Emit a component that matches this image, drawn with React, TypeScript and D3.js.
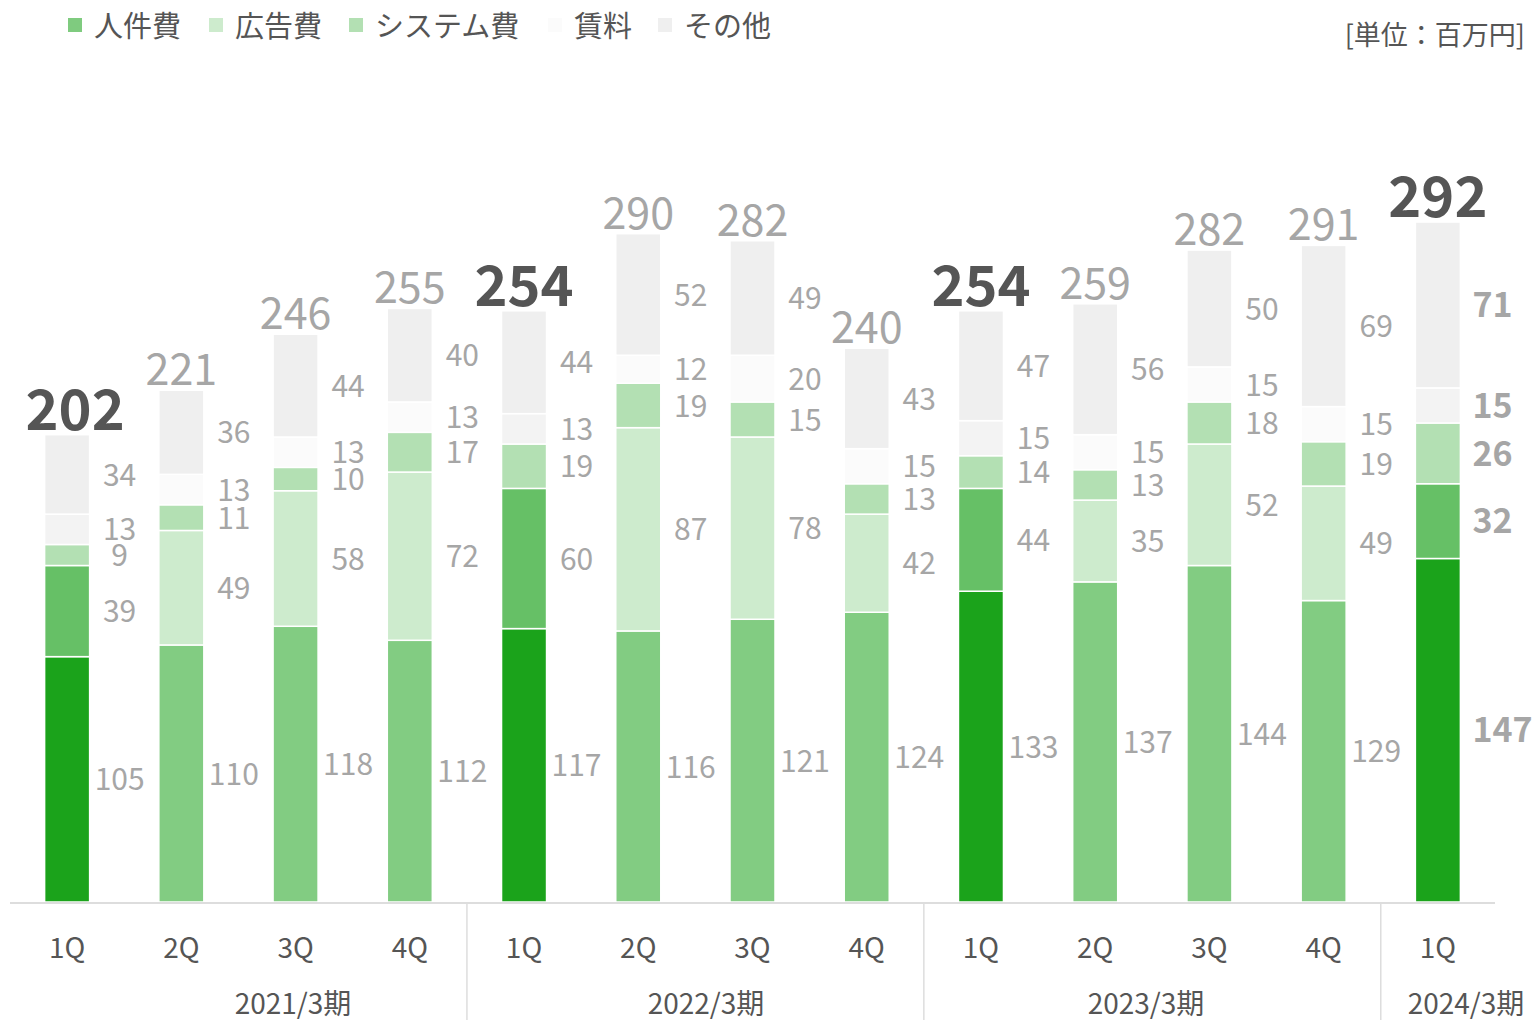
import React from "react";
import * as d3 from "d3";

const quarters = ["1Q", "2Q", "3Q", "4Q", "1Q", "2Q", "3Q", "4Q", "1Q", "2Q", "3Q", "4Q", "1Q"];
const years = ["2021/3期", "2022/3期", "2023/3期", "2024/3期"];
const yearOf = [0, 0, 0, 0, 1, 1, 1, 1, 2, 2, 2, 2, 3];
const seriesNames = ["人件費", "広告費", "システム費", "賃料", "その他"];
const personnel = [105, 110, 118, 112, 117, 116, 121, 124, 133, 137, 144, 129, 147];
const advertising = [39, 49, 58, 72, 60, 87, 78, 42, 44, 35, 52, 49, 32];
const system = [9, 11, 10, 17, 19, 19, 15, 13, 14, 13, 18, 19, 26];
const rent = [13, 13, 13, 13, 13, 12, 20, 15, 15, 15, 15, 15, 15];
const other = [34, 36, 44, 40, 44, 52, 49, 43, 47, 56, 50, 69, 71];
const totals = [202, 221, 246, 255, 254, 290, 282, 240, 254, 259, 282, 291, 292];

const W = 1537;
const H = 1020;
const baseY = 902;

const colorsNormal = ["#82cc82", "#cdebcd", "#b3e0b3", "#fbfbfb", "#efefef"];
const colorsHi = ["#1ba31b", "#66c066", "#b3e0b3", "#f3f3f3", "#efefef"];
const legendColors = ["#7fcb7f", "#cdebcd", "#b3e0b3", "#fbfbfb", "#efefef"];

const FONT = "'Noto Sans CJK JP', 'Noto Sans', sans-serif";

export default function App() {
  const idx = quarters.map((_, i) => i);
  const x = d3.scaleBand<number>().domain(idx).range([10, 1495]).paddingInner(0.606).paddingOuter(0.303);
  const y = d3.scaleLinear().domain([0, 300]).range([baseY, baseY - 701]);
  const rows = idx.map((i) => ({
    i,
    v: [personnel[i], advertising[i], system[i], rent[i], other[i]],
  }));
  const stack = d3.stack<any>().keys(["0", "1", "2", "3", "4"]).value((d: any, k: string) => d.v[+k]);
  const layers = stack(rows);
  const bw = x.bandwidth();

  const seps: number[] = [];
  for (let i = 1; i < quarters.length; i++) {
    if (yearOf[i] !== yearOf[i - 1]) seps.push((x(i - 1)! + x(i)! + bw) / 2);
  }
  const yearLabelX = [293, 706, 1146, 1466];
  const legendX = [68, 209, 349, 548, 658];

  return (
    <svg width={W} height={H} style={{ position: "absolute", left: 0, top: 0 }} fontFamily={FONT}>
      <rect width={W} height={H} fill="#fff" />
      {seriesNames.map((n, k) => (
        <g key={n}>
          <rect x={legendX[k]} y={18} width={14} height={14} fill={legendColors[k]} />
          <text x={legendX[k] + 26} y={37} fontSize={29} fill="#555">{n}</text>
        </g>
      ))}
      <text x={1525} y={45} fontSize={27} fill="#555" textAnchor="end">[単位：百万円]</text>

      {layers.map((layer, k) =>
        layer.map((d: any, i: number) => {
          const hi = quarters[i] === "1Q";
          const col = hi ? colorsHi[k] : colorsNormal[k];
          return (
            <rect
              key={`${k}-${i}`}
              x={x(i)}
              y={y(d[1])}
              width={bw}
              height={y(d[0]) - y(d[1])}
              fill={col}
              stroke="#fff"
              strokeWidth={1.5}
            />
          );
        })
      )}

      {layers.map((layer, k) =>
        layer.map((d: any, i: number) => {
          const last = i === quarters.length - 1;
          const mid = (y(d[0]) + y(d[1])) / 2;
          const val = rows[i].v[k];
          return (
            <text
              key={`l${k}-${i}`}
              x={last ? x(i)! + bw + 12 : x(i)! + bw + 30}
              y={mid + 3}
              dominantBaseline="middle"
              textAnchor={last ? "start" : "middle"}
              fontSize={last ? 34 : 30}
              fontWeight={last ? 700 : 400}
              fill="#a6a6a6"
            >
              {val}
            </text>
          );
        })
      )}

      {layers[4].map((d: any, i: number) => {
        const hi = quarters[i] === "1Q";
        return (
          <text
            key={`t${i}`}
            x={x(i)! + bw / 2 + (i === 0 ? 8 : 0)}
            y={y(d[1]) - 5}
            textAnchor="middle"
            fontSize={hi ? 56 : 43}
            fontWeight={hi ? 700 : 400}
            fill={hi ? "#555" : "#a6a6a6"}
          >
            {totals[i]}
          </text>
        );
      })}

      <line x1={10} x2={1495} y1={baseY + 1} y2={baseY + 1} stroke="#ddd" strokeWidth={2} />
      {seps.map((s, j) => (
        <line key={`s${j}`} x1={s} x2={s} y1={baseY + 2} y2={H} stroke="#ddd" strokeWidth={1.5} />
      ))}
      {quarters.map((q, i) => (
        <text key={`q${i}`} x={x(i)! + bw / 2} y={958} textAnchor="middle" fontSize={28} fill="#555">
          {q}
        </text>
      ))}
      {years.map((yl, j) => (
        <text key={`y${j}`} x={yearLabelX[j]} y={1014} textAnchor="middle" fontSize={28} fill="#555">
          {yl}
        </text>
      ))}
    </svg>
  );
}
